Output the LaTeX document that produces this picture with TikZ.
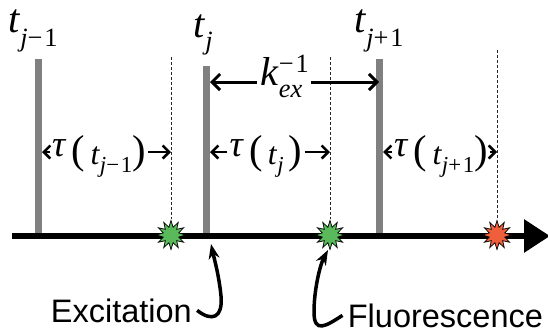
\documentclass[tikz,border=0pt]{standalone}
\usepackage{fontspec}
\newfontfamily\notefont{Liberation Sans}
\newfontfamily\timesfont{Liberation Serif}
\usetikzlibrary{
  arrows.meta,
  shapes.geometric
}
\definecolor{bargray}{RGB}{128,128,128}
\definecolor{fluogreen}{RGB}{90,185,90}
\definecolor{fluored}{RGB}{240,95,60}
\newcommand{\tfont}{\timesfont\fontsize{23}{26}\selectfont}
\newcommand{\taufont}{\timesfont\fontsize{18}{21}\selectfont}
\newcommand{\subsize}{\fontsize{15}{15}\selectfont}
\newcommand{\tausize}{\fontsize{13}{13}\selectfont}
\newcommand{\taumark}{\raisebox{4pt}{\fontsize{21}{21}\selectfont\textit{τ}}}
\newcommand{\paren}[1]{\raisebox{0.5pt}{\fontsize{23}{23}\selectfont#1}}

\begin{document}
\begin{tikzpicture}[
  x=0.02cm, y=-0.02cm,
  bar/.style={draw=bargray, line width=0.14cm},
  timeline/.style={line width=0.12cm, -{Triangle[length=0.52cm, width=0.64cm]}},
  decay/.style={draw=black!85, line width=0.02cm, dash pattern=on 0.06cm off 0.04cm},
  burst/.style={star, star points=12, star point ratio=1.8, minimum size=0.58cm, inner sep=0, draw, line width=0.4pt},
  tlabel/.style={inner sep=0, font=\tfont},
  taulabel/.style={inner sep=1pt, font=\taufont},
  gap/.style={line width=0.05cm, -{Straight Barb[length=0.13cm, width=0.26cm]}},
  kgap/.style={line width=0.06cm, -{Straight Barb[length=0.16cm, width=0.32cm]}},
  note/.style={inner sep=0.1cm, font=\notefont\fontsize{18.5}{22}\selectfont},
  pointer/.style={line width=0.07cm, -{Stealth[length=0.3cm, width=0.22cm]}}
]
\useasboundingbox (0,0) rectangle (548,335);

\coordinate (start) at (12,236);
\coordinate (end) at (550,236);
\coordinate (b1top) at (38.5,59);
\coordinate (b1) at (38.5,234);
\coordinate (b2top) at (206.5,66);
\coordinate (b2) at (206.5,234);
\coordinate (b3top) at (379.5,59);
\coordinate (b3) at (379.5,234);
\coordinate (d1top) at (171,57);
\coordinate (d2top) at (330,57);
\coordinate (d3top) at (497,50);
\coordinate (b2k) at (210,82);
\coordinate (b3k) at (379,82);
\coordinate (r1) at (42,152);
\coordinate (r2) at (210,152);
\coordinate (r3) at (383,152);
\coordinate (q1) at (171,152);
\coordinate (q2) at (330,152);
\coordinate (q3) at (497,152);

\draw[bar] (b1top) -- (b1);
\draw[bar] (b2top) -- (b2);
\draw[bar] (b3top) -- (b3);
\draw[timeline] (start) -- (end);

\node[burst, fill=fluogreen] (f1) at (171,235) {};
\node[burst, fill=fluogreen] (f2) at (330,235) {};
\node[burst, fill=fluored] (f3) at (497,235) {};
\draw[decay] (d1top) -- (f1);
\draw[decay] (d2top) -- (f2);
\draw[decay] (d3top) -- (f3);

\node[tlabel, anchor=base west] (t1) at (8,32) {\textit{t}\raisebox{-8pt}{\subsize\textit{j}−\kern1pt1}};
\node[tlabel, anchor=base west] (t2) at (193,37) {\textit{t}\raisebox{-7pt}{\subsize\textit{j}}};
\node[tlabel, anchor=base west] (t3) at (354,32) {\textit{t}\raisebox{-8pt}{\subsize\textit{j}+\kern1pt1}};

\node[tlabel, inner xsep=0.06cm, anchor=base] (kex) at (284,85) {\textit{k}\rlap{\raisebox{7pt}{\subsize−\kern1pt1}}\raisebox{-7pt}{\subsize\textit{ex}}\kern3pt};
\draw[kgap] (kex.west |- b2k) -- (b2k);
\draw[kgap] (kex.east |- b3k) -- (b3k);

\node[taulabel, anchor=base] (tau1) at (99,164) {\taumark\,\paren{(}\,\textit{t}\raisebox{-5pt}{\tausize\textit{j}−\kern1pt1}\paren{)}};
\node[taulabel, anchor=base] (tau2) at (266,164) {\taumark\,\paren{(}\,\textit{t}\raisebox{-5pt}{\tausize\textit{j}}\,\paren{)}};
\node[taulabel, anchor=base] (tau3) at (441,164) {\taumark\,\paren{(}\,\textit{t}\raisebox{-5pt}{\tausize\textit{j}+\kern1pt1}\paren{)}};
\draw[gap] (tau1.west |- r1) -- (r1);
\draw[gap] (tau1.east |- q1) -- (q1);
\draw[gap] (tau2.west |- r2) -- (r2);
\draw[gap] (tau2.east |- q2) -- (q2);
\draw[gap] (tau3.west |- r3) -- (r3);
\draw[gap] (tau3.east |- q3) -- (q3);

\node[note, anchor=base west] (exc) at (45.5,322) {Excitation};
\node[note, anchor=base west] (fluo) at (342.5,327) {Fluorescence};
\coordinate (exctip) at (211,244);
\coordinate (fluotip) at (328,250);
\draw[pointer] (exc.east) .. controls (212,322) and (223,318) .. (221,296) .. controls (219,275) and (214,258) .. (exctip);
\draw[pointer] (fluo.west) .. controls (326,326) and (314,334) .. (314,312) .. controls (314,290) and (320,265) .. (fluotip);
\end{tikzpicture}
\end{document}
